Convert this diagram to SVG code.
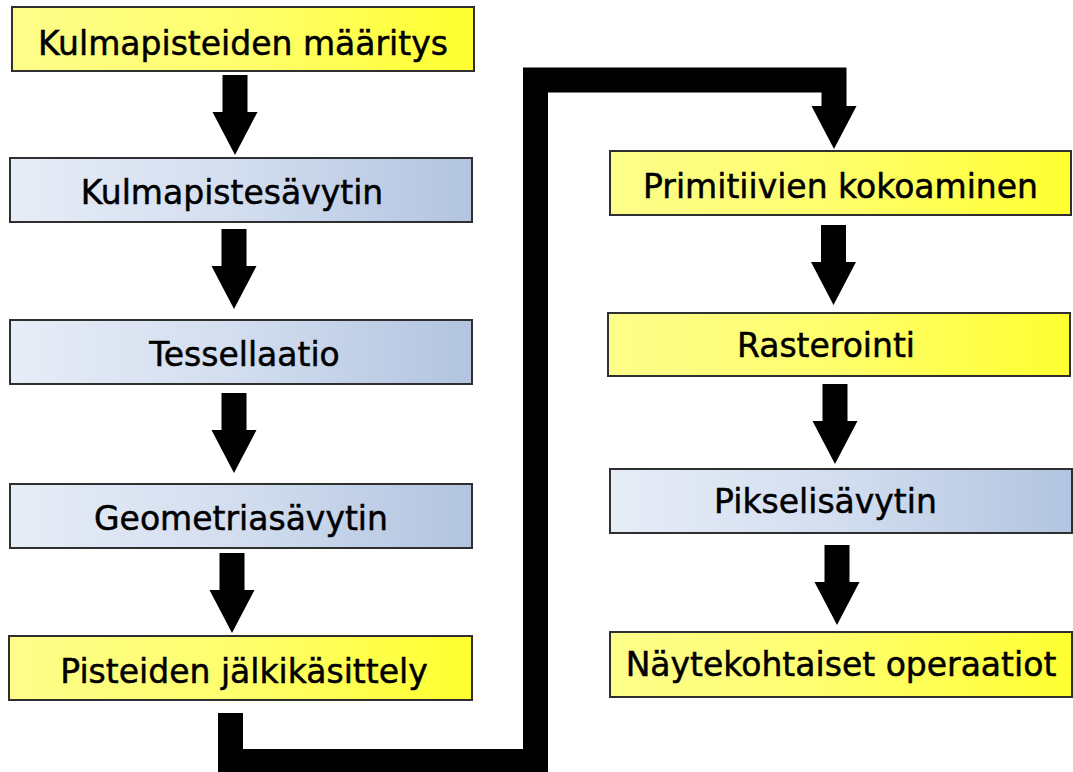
<svg xmlns="http://www.w3.org/2000/svg" xmlns:xlink="http://www.w3.org/1999/xlink" width="1073" height="772" viewBox="0 0 1073 772">
<defs>
<linearGradient id="gy" x1="0" y1="0" x2="1" y2="0">
<stop offset="0" stop-color="#fdfd8a"/>
<stop offset="0.5" stop-color="#fefe6c"/>
<stop offset="1" stop-color="#ffff30"/>
</linearGradient>
<linearGradient id="gb" x1="0" y1="0" x2="1" y2="0">
<stop offset="0" stop-color="#e7edf7"/>
<stop offset="0.5" stop-color="#d2ddef"/>
<stop offset="1" stop-color="#b2c4e0"/>
</linearGradient>
<path id="arrow" d="M-12.5,0 H12.5 V37 H22.5 L0,80 L-22.5,37 H-12.5 Z"/>
</defs>
<style>
.box rect{stroke:#2f2f2f;stroke-width:2}
.y rect{fill:url(#gy)}
.b rect{fill:url(#gb)}
text{font-family:"DejaVu Sans",Verdana,sans-serif;font-size:33px;fill:#000;stroke:#000;stroke-width:0.5;text-anchor:middle}
.arr{fill:#000}
.conn{fill:none;stroke:#000;stroke-width:25;stroke-linejoin:miter;stroke-linecap:butt}
</style>
<rect width="1073" height="772" fill="#fff"/>
<g id="connectors">
<use xlink:href="#arrow" class="arr" transform="translate(235,75)"/>
<use xlink:href="#arrow" class="arr" transform="translate(234,229)"/>
<use xlink:href="#arrow" class="arr" transform="translate(234,393)"/>
<use xlink:href="#arrow" class="arr" transform="translate(232,553)"/>
<path class="conn" d="M230.5,713 V761.5 H535.5 V80 H834 V107"/>
<polygon class="arr" points="811.5,106 856.5,106 834,149"/>
<use xlink:href="#arrow" class="arr" transform="translate(833.5,225)"/>
<use xlink:href="#arrow" class="arr" transform="translate(835,384)"/>
<use xlink:href="#arrow" class="arr" transform="translate(837,545)"/>
</g>
<g id="n1" class="box y"><rect x="12" y="7" width="462" height="64"/><text x="243" y="55">Kulmapisteiden määritys</text></g>
<g id="n2" class="box b"><rect x="10" y="158" width="462" height="64"/><text x="232" y="204">Kulmapistesävytin</text></g>
<g id="n3" class="box b"><rect x="10" y="320" width="462" height="64"/><text x="244.5" y="366">Tessellaatio</text></g>
<g id="n4" class="box b"><rect x="10" y="484" width="462" height="64"/><text x="241" y="530">Geometriasävytin</text></g>
<g id="n5" class="box y"><rect x="9" y="636" width="463" height="64"/><text x="244" y="683">Pisteiden jälkikäsittely</text></g>
<g id="n6" class="box y"><rect x="610" y="151" width="461" height="64"/><text x="840.5" y="198">Primitiivien kokoaminen</text></g>
<g id="n7" class="box y"><rect x="608" y="313" width="462" height="63"/><text x="826" y="357">Rasterointi</text></g>
<g id="n8" class="box b"><rect x="610" y="469" width="462" height="64"/><text x="825.5" y="513">Pikselisävytin</text></g>
<g id="n9" class="box y"><rect x="610" y="632" width="462" height="65"/><text x="841" y="676">Näytekohtaiset operaatiot</text></g>
</svg>
